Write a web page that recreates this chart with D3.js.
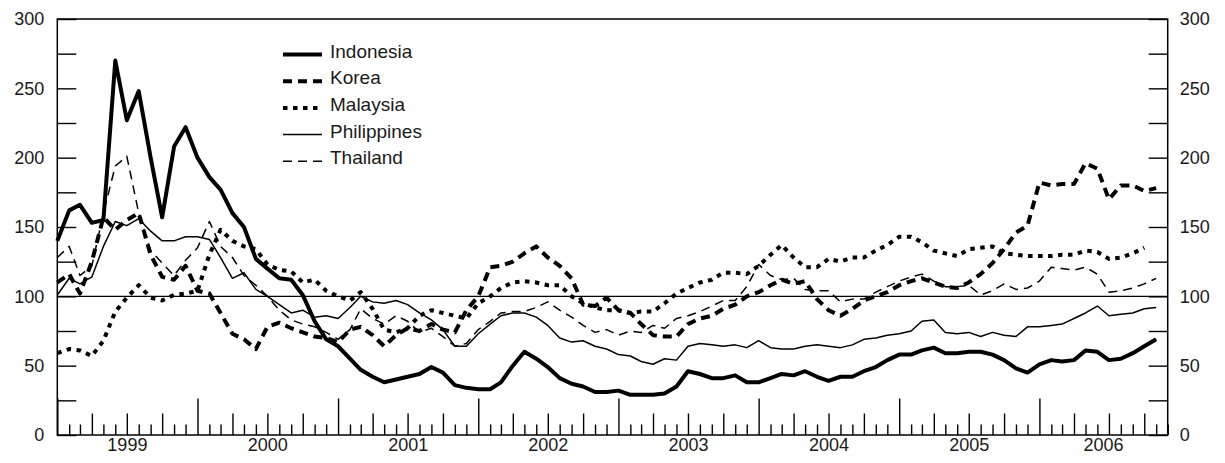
<!DOCTYPE html>
<html>
<head>
<meta charset="utf-8">
<script src="https://cdn.jsdelivr.net/npm/d3@7"></script>
<style>
  body { margin: 0; background: #fff; }
  svg { display: block; }
  text { font-family: "Liberation Sans", Arial, Helvetica, sans-serif; fill: #1a1a1a; }
</style>
</head>
<body>
<svg id="chart" width="1225" height="463"></svg>
<script>
// Monthly index values, January 1999 onward
const indonesia = [140,162,166,153,155,270,227,248,200,157,208,222,
  200,186,177,160,150,127,120,113,112,101,82,69,
  64,55,47,42,38,40,42,44,49,45,36,34,
  33,33,38,50,60,55,49,41,37,35,31,31,
  32,29,29,29,30,35,46,44,41,41,43,38,
  38,41,44,43,46,42,39,42,42,46,49,54,
  58,58,61,63,59,59,60,60,58,54,48,45,
  51,54,53,54,61,60,54,55,59,64,69];
const korea = [110,116,102,125,157,148,155,160,130,114,112,122,
  104,102,88,73,69,62,78,81,77,74,71,70,
  67,76,78,72,64,72,77,75,80,76,74,90,
  100,121,122,125,131,136,128,122,113,94,93,99,
  90,88,80,72,71,71,80,84,86,91,94,100,
  103,108,112,109,111,98,90,86,91,97,100,103,
  108,111,113,110,107,106,110,116,124,134,146,151,
  182,180,181,181,196,192,170,180,180,176,178];
const malaysia = [59,62,61,57,68,89,99,108,99,97,101,102,
  104,130,148,140,136,134,123,119,118,110,112,104,
  100,97,103,91,76,74,77,86,90,88,86,84,
  95,100,106,110,111,110,108,108,100,95,92,90,
  90,88,89,89,95,102,106,110,112,117,117,116,
  122,130,137,128,121,121,127,125,128,128,133,137,
  143,143,139,133,131,129,134,135,136,131,130,129,
  129,129,130,130,133,132,127,128,131,135];
const philippines = [101,113,109,114,136,154,151,156,147,140,140,143,
  143,141,128,113,117,105,100,94,88,90,85,86,
  84,92,100,96,95,97,94,88,83,76,64,64,
  73,80,86,88,88,85,79,70,67,68,64,62,
  58,57,53,51,55,54,64,66,65,64,65,63,
  68,63,62,62,64,65,64,63,65,69,70,72,
  73,75,82,83,74,73,74,71,74,72,71,78,
  78,79,80,84,88,93,86,87,88,91,92];
const thailand = [128,136,115,122,160,194,201,160,133,124,115,126,
  135,154,136,128,115,108,100,90,83,80,78,74,
  69,76,91,84,80,86,82,74,77,71,64,66,
  76,82,88,89,89,92,96,90,85,79,74,76,
  72,75,74,79,77,84,86,89,93,97,97,107,
  123,115,112,113,105,104,104,96,98,98,103,107,
  111,114,116,111,107,107,108,101,104,109,105,106,
  111,121,120,119,121,116,103,104,106,109,113];

const seriesNames = ["Indonesia", "Korea", "Malaysia", "Philippines", "Thailand"];
const seriesValues = [indonesia, korea, malaysia, philippines, thailand];
const yTickValues = [0,25,50,75,100,125,150,175,200,225,250,275,300];
const yLabelValues = [0,50,100,150,200,250,300];
const yearLabels = [1999,2000,2001,2002,2003,2004,2005,2006];

// Line appearance per country
const styles = [
  { width: 4, dash: null },
  { width: 4, dash: "9,6" },
  { width: 4, dash: "4.5,5.5" },
  { width: 1.5, dash: null },
  { width: 1.5, dash: "9,6" }
];

(function draw() {
  const plotLeft = 57.3, plotRight = 1167.7, plotTop = 19, plotBottom = 435;
  const startMonth = new Date(1999, 0, 1);
  const endMonth = new Date(2006, 11, 1);

  const svg = d3.select("#chart");
  const x = d3.scaleTime().domain([startMonth, endMonth]).range([plotLeft, plotRight]);
  const y = d3.scaleLinear().domain([0, 300]).range([plotBottom, plotTop]);

  const monthDate = i => d3.timeMonth.offset(startMonth, i);

  // Month ticks along the bottom: tall at years, medium at quarters
  const xAxis = d3.axisBottom(x)
    .ticks(d3.timeMonth.every(1))
    .tickSizeOuter(0)
    .tickFormat("");
  const gx = svg.append("g").attr("transform", `translate(0,${plotBottom})`).call(xAxis);
  gx.select(".domain").remove();
  gx.selectAll(".tick line")
    .attr("stroke", "#000")
    .attr("stroke-width", 1.4)
    .attr("y2", d => d.getMonth() === 0 ? -36.5 : (d.getMonth() % 3 === 0 ? -21.5 : -10.5));

  // Year labels centred within each year's span
  yearLabels.forEach(yr => {
    const a = Math.max(x(new Date(yr, 0, 1)), plotLeft);
    const b = Math.min(x(new Date(yr + 1, 0, 1)), plotRight);
    svg.append("text")
      .attr("x", (a + b) / 2)
      .attr("y", 451)
      .attr("text-anchor", "middle")
      .attr("font-size", 18)
      .text(yr);
  });

  // Value axes on both sides with inward ticks
  const fmt = d => yLabelValues.includes(d) ? d : "";
  const gyl = svg.append("g").attr("transform", `translate(${plotLeft},0)`)
    .call(d3.axisLeft(y).tickValues(yTickValues).tickSize(-19).tickSizeOuter(0).tickPadding(13).tickFormat(fmt));
  const gyr = svg.append("g").attr("transform", `translate(${plotRight},0)`)
    .call(d3.axisRight(y).tickValues(yTickValues).tickSize(-19).tickSizeOuter(0).tickPadding(12).tickFormat(fmt));
  [gyl, gyr].forEach(g => {
    g.attr("font-family", null);
    g.select(".domain").remove();
    g.selectAll(".tick line").attr("stroke", "#000").attr("stroke-width", 1.4);
    g.selectAll(".tick text").attr("font-size", 18).attr("fill", "#1a1a1a");
  });

  // Reference line at 100
  svg.append("line")
    .attr("x1", plotLeft).attr("x2", plotRight)
    .attr("y1", y(100)).attr("y2", y(100))
    .attr("stroke", "#000").attr("stroke-width", 1.2);

  // Plot frame
  svg.append("rect")
    .attr("x", plotLeft).attr("y", plotTop)
    .attr("width", plotRight - plotLeft).attr("height", plotBottom - plotTop)
    .attr("fill", "none").attr("stroke", "#000").attr("stroke-width", 1.5);

  // Country lines
  const line = d3.line()
    .x((d, i) => x(monthDate(i)))
    .y(d => y(d));

  seriesValues.forEach((vals, k) => {
    svg.append("path")
      .datum(vals)
      .attr("d", line)
      .attr("fill", "none")
      .attr("stroke", "#000")
      .attr("stroke-width", styles[k].width)
      .attr("stroke-dasharray", styles[k].dash)
      .attr("stroke-linejoin", "round");
  });

  // Legend
  const legend = svg.append("g");
  seriesNames.forEach((name, k) => {
    const ly = 54.5 + k * 26.7;
    legend.append("line")
      .attr("x1", 283).attr("x2", 322)
      .attr("y1", ly).attr("y2", ly)
      .attr("stroke", "#000")
      .attr("stroke-width", styles[k].width)
      .attr("stroke-dasharray", styles[k].dash);
    legend.append("text")
      .attr("x", 330).attr("y", ly + 3)
      .attr("font-size", 19)
      .text(name);
  });
})();
</script>
</body>
</html>
